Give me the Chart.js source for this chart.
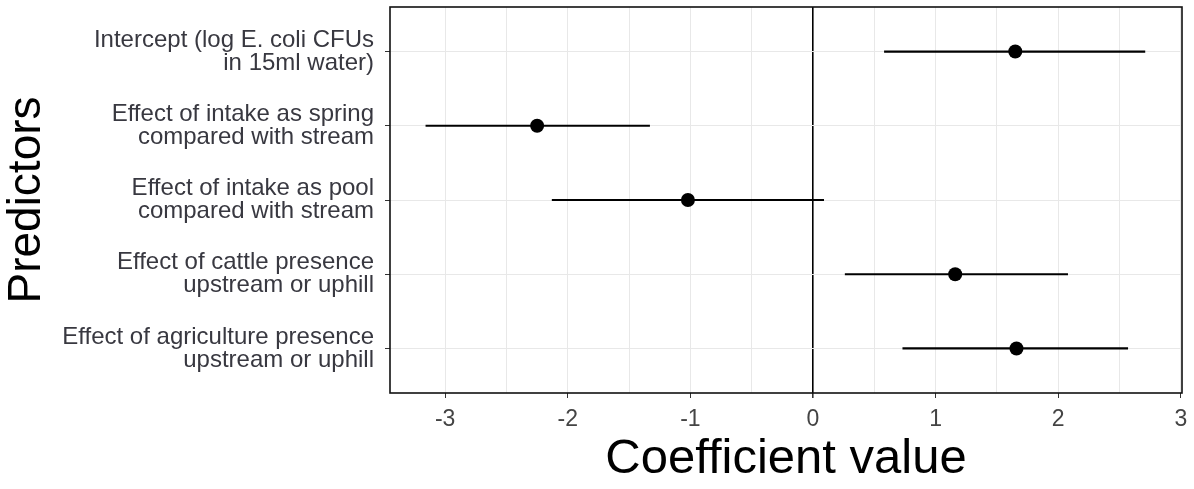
<!DOCTYPE html>
<html>
<head>
<meta charset="utf-8">
<script src="https://cdn.jsdelivr.net/npm/chart.js@4.4.1/dist/chart.umd.min.js"></script>
<style>
  body { margin: 0; background: #fff; }
  #wrap { width: 1194px; height: 489px; }
</style>
</head>
<body>
<div id="wrap"><canvas id="coefPlot"></canvas></div>
<script>
// predictors, top to bottom
const predictors = [
  ['Intercept (log E. coli CFUs', 'in 15ml water)'],
  ['Effect of intake as spring', 'compared with stream'],
  ['Effect of intake as pool', 'compared with stream'],
  ['Effect of cattle presence', 'upstream or uphill'],
  ['Effect of agriculture presence', 'upstream or uphill']
]
const estimate = [1.65, -2.25, -1.02, 1.16, 1.66]
const lower = [0.58, -3.16, -2.13, 0.26, 0.73]
const upper = [2.71, -1.33, 0.09, 2.08, 2.57]
const xTickLabels = [-3, -2, -1, 0, 1, 2, 3]

const fontFam = '"Liberation Sans", Arial, sans-serif'

// error bars, one line per predictor
const ciSets = predictors.map((p, i) => ({
  data: [{x: lower[i], y: i}, {x: upper[i], y: i}],
  showLine: true,
  borderColor: '#000',
  borderWidth: 2.2,
  pointRadius: 0
}))

const pointSet = {
  data: estimate.map((v, i) => ({x: v, y: i})),
  pointRadius: 7,
  pointBackgroundColor: '#000',
  pointBorderColor: '#000',
  pointBorderWidth: 0
}

const panelBorder = {
  id: 'panelBorder',
  afterDatasetsDraw(chart) {
    const {ctx, chartArea: a} = chart
    ctx.save()
    ctx.strokeStyle = '#111'
    ctx.lineWidth = 1.6
    ctx.strokeRect(a.left, a.top, a.right - a.left, a.bottom - a.top)
    ctx.restore()
  }
}

const ctx = document.getElementById('coefPlot').getContext('2d')
new Chart(ctx, {
  type: 'scatter',
  data: { datasets: [...ciSets, pointSet] },
  plugins: [panelBorder],
  options: {
    responsive: true,
    maintainAspectRatio: false,
    animation: false,
    layout: { padding: { top: 7, right: 12, left: 0, bottom: 0 } },
    plugins: { legend: { display: false }, tooltip: { enabled: false } },
    scales: {
      x: {
        type: 'linear',
        min: -3.45,
        max: 3.01,
        afterBuildTicks(scale) {
          const t = []
          for (let v = xTickLabels[0]; v <= xTickLabels[xTickLabels.length - 1] + 0.01; v += 0.5) t.push({value: v})
          scale.ticks = t
        },
        afterFit(scale) {
          scale.height = 96
          scale.paddingLeft = 0
          scale.paddingRight = 0
        },
        border: { display: false },
        grid: {
          color: c => c.tick && c.tick.value === 0 ? '#000' : '#e8e8e8',
          lineWidth: c => c.tick && c.tick.value === 0 ? 1.6 : 1,
          tickColor: c => c.tick && Number.isInteger(c.tick.value) ? '#333' : 'rgba(0,0,0,0)',
          tickLength: 5
        },
        ticks: {
          padding: 8,
          color: '#444',
          font: { family: fontFam, size: 23 },
          maxRotation: 0,
          autoSkip: false,
          callback: v => xTickLabels.includes(v) ? String(v) : ''
        },
        title: {
          display: true,
          text: 'Coefficient value',
          color: '#000',
          font: { family: fontFam, size: 49 },
          padding: { top: 0, bottom: 0 }
        }
      },
      y: {
        type: 'linear',
        min: -0.6,
        max: 4.6,
        reverse: true,
        afterBuildTicks(scale) {
          scale.ticks = predictors.map((p, i) => ({value: i}))
        },
        afterFit(scale) {
          scale.width = 390
          scale.paddingTop = 0
          scale.paddingBottom = 0
        },
        border: { display: false },
        grid: {
          color: '#e8e8e8',
          tickColor: '#333',
          tickLength: 5
        },
        ticks: {
          padding: 11,
          color: '#383840',
          font: { family: fontFam, size: 24, lineHeight: 0.96 },
          autoSkip: false,
          callback: v => predictors[v]
        },
        title: {
          display: true,
          text: 'Predictors',
          color: '#000',
          font: { family: fontFam, size: 46 },
          padding: { top: 0, bottom: 0 }
        }
      }
    }
  }
})
</script>
</body>
</html>
